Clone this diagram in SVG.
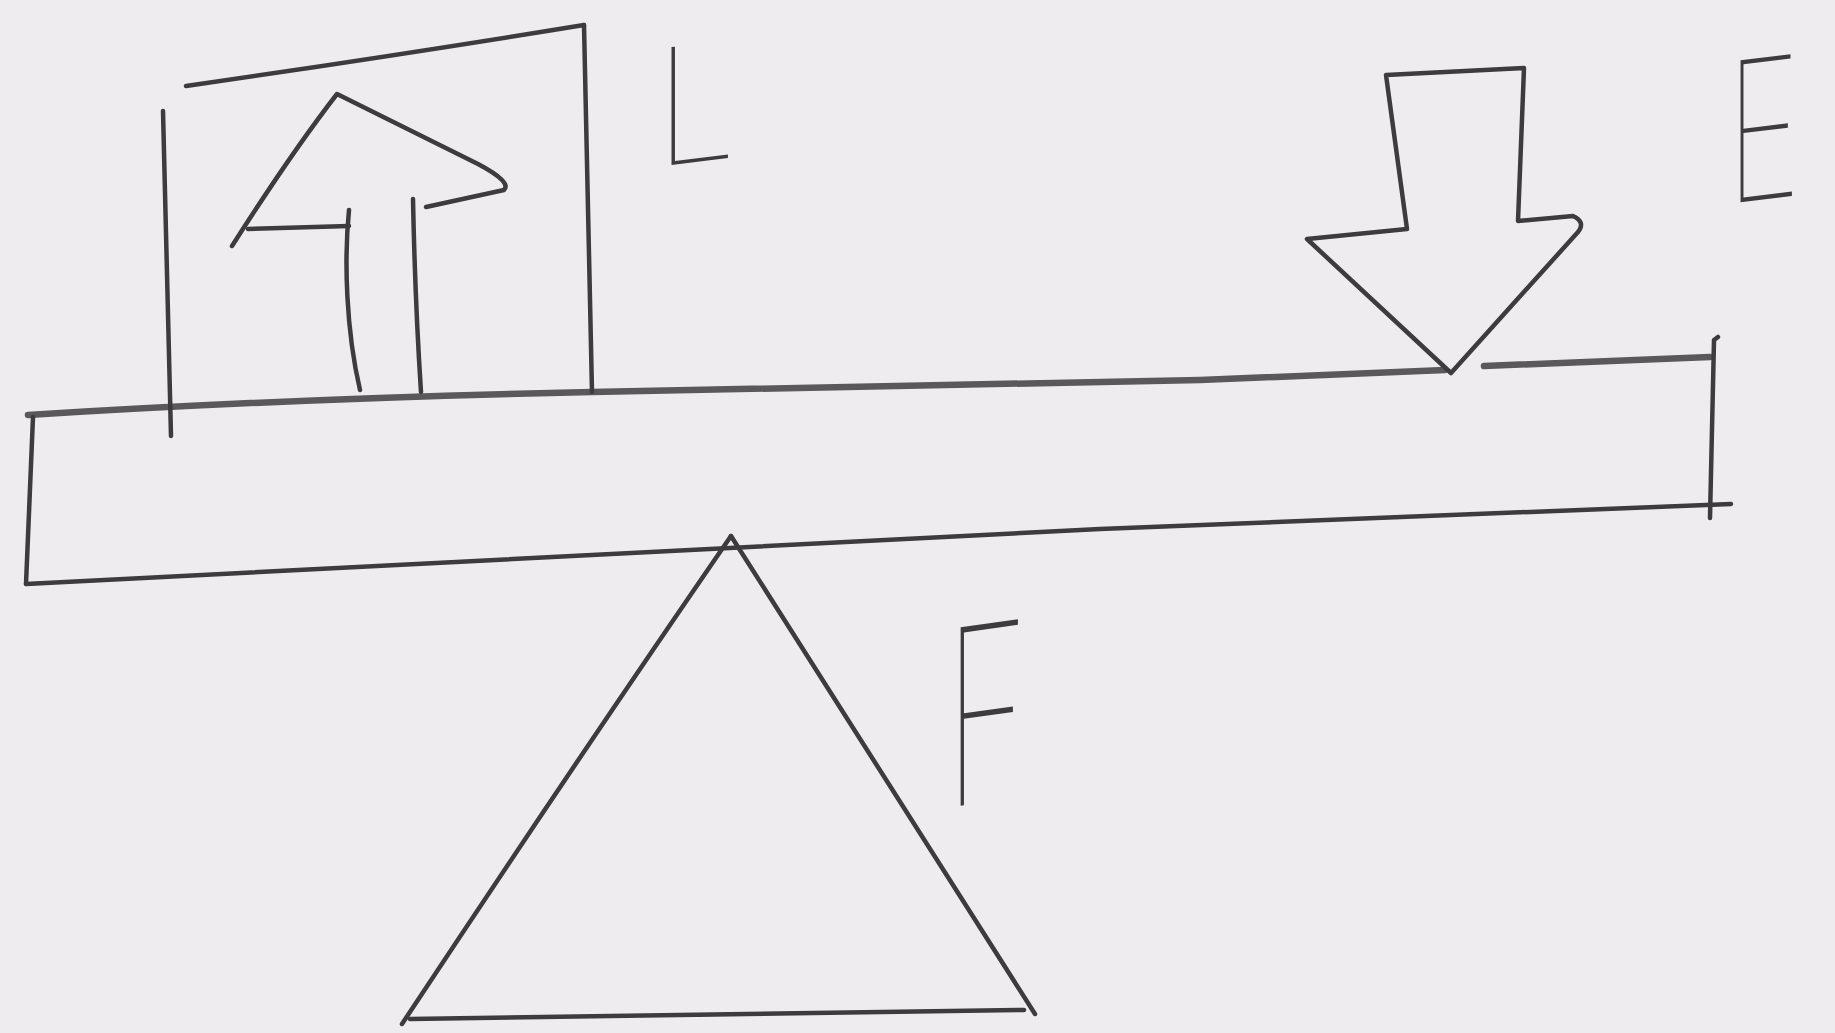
<svg xmlns="http://www.w3.org/2000/svg" width="1835" height="1033" viewBox="0 0 1835 1033">
<style>
.ln{fill:none;stroke:#3d3b3e;stroke-width:4.5;stroke-linecap:round;stroke-linejoin:round}
.thick{fill:none;stroke:#5a585b;stroke-width:6.5;stroke-linecap:round;stroke-linejoin:round}
.lbl{font-family:Inter,"DejaVu Sans",sans-serif;font-weight:100;fill:#3d3b3e}
</style>
<rect width="1835" height="1033" fill="#efecef"/>
<g id="beam">
<path class="thick" d="M28,415 Q300,398 592,392 Q900,386 1200,380 L1445,370"/>
<path class="thick" d="M1484,366 L1710,357"/>
<path class="ln" d="M33,417 L26,584"/>
<path class="ln" d="M26,584 Q600,555 1100,529 L1731,504"/>
<path class="ln" d="M1718,337 L1714,340 L1710,518"/>
</g>
<g id="load-box">
<path class="ln" d="M186,86 Q400,55 584,25"/>
<path class="ln" d="M163,111 L171,436"/>
<path class="ln" d="M584,25 L592,392"/>
</g>
<g id="load-arrow">
<path class="ln" d="M232,246 Q292,152 337,94 L478,164 Q512,182 504,190 L426,207"/>
<path class="ln" d="M349,226 L248,229"/>
<path class="ln" d="M349,210 C344,260 346,330 360,390"/>
<path class="ln" d="M413,199 Q415,300 421,392"/>
</g>
<g id="effort-arrow">
<path class="ln" d="M1386,75 L1524,68 L1518,221 L1573,216 Q1586,222 1578,232 L1451,373 L1307,239 L1407,229 Z"/>
</g>
<g id="fulcrum">
<path class="ln" d="M731,536 Q570,770 402,1024"/>
<path class="ln" d="M731,536 L1035,1014"/>
<path class="ln" d="M410,1019 L1024,1010"/>
</g>
<g id="labels">
<text class="lbl" font-size="162" transform="translate(655,167) skewY(-7) scale(0.9,1)">L</text>
<text class="lbl" font-size="195" transform="translate(1726,204) skewY(-7) scale(0.66,1)">E</text>
<text class="lbl" font-size="245" transform="translate(944,808) skewY(-8) scale(0.6,1)">F</text>
</g>
</svg>
